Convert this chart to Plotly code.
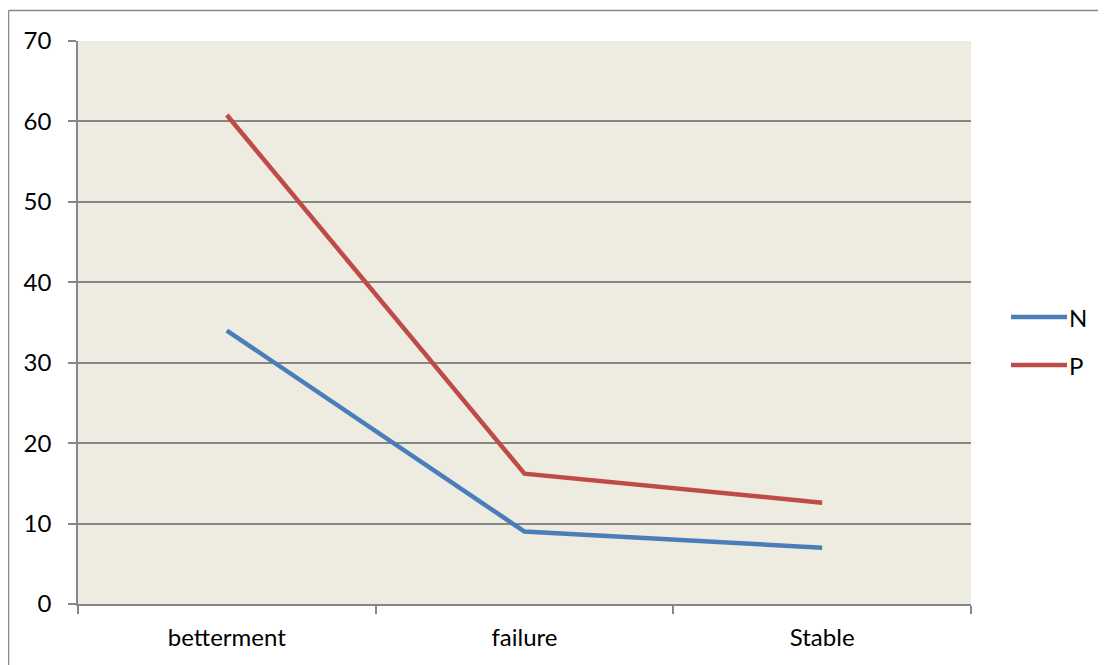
import plotly.graph_objects as go

categories = ["betterment", "failure", "Stable"]
series_names = ["N", "P"]
n_values = [34, 9, 7]
p_values = [60.8, 16.2, 12.6]
y_ticks = [0, 10, 20, 30, 40, 50, 60, 70]
colors = ["#4A7EBB", "#BE4B48"]

# page has an 8px body margin, so figure coords = page coords - 8
OFF = 8
W, H = 1106 - OFF, 665 - OFF
L, R, T, B = 78 - OFF, 971 - OFF, 41 - OFF, 604 - OFF
pw, ph = R - L, B - T

def px_x(p):
    return (p - OFF - L) / pw

def px_y(p):
    return (B - (p - OFF)) / ph

FONT = "Lato"
GRAY = "#868686"
FS = 24

fig = go.Figure()
for name, vals, col in zip(series_names, [n_values, p_values], colors):
    fig.add_trace(go.Scatter(x=categories, y=vals, mode="lines", name=name,
                             line=dict(color=col, width=4.5), showlegend=False))

fig.update_layout(
    width=W, height=H,
    margin=dict(l=L, r=W - R, t=T, b=H - B),
    paper_bgcolor="white",
    plot_bgcolor="#EEEBE0",
    font=dict(family=FONT, size=FS, color="black"),
)
fig.update_xaxes(type="category", range=[-0.5, 2.5], tickson="boundaries",
                 ticks="outside", ticklen=8, tickcolor=GRAY, tickwidth=1.5,
                 showline=True, linecolor=GRAY, linewidth=1.5, showgrid=False,
                 tickfont=dict(size=FS), ticklabelstandoff=11)
fig.update_yaxes(range=[0, 70], tickvals=y_ticks, ticks="outside", ticklen=8,
                 tickcolor=GRAY, tickwidth=1.5, showline=True, linecolor=GRAY,
                 linewidth=1.5, showgrid=True, gridcolor=GRAY, gridwidth=1.5,
                 zeroline=False, tickfont=dict(size=FS), ticklabelstandoff=12)

# outer frame (top and left edges visible)
fig.add_shape(type="line", xref="paper", yref="paper",
              x0=px_x(8.5), x1=px_x(1110), y0=px_y(10.5), y1=px_y(10.5),
              line=dict(color="#898989", width=1.5), layer="below")
fig.add_shape(type="line", xref="paper", yref="paper",
              x0=px_x(8.5), x1=px_x(8.5), y0=px_y(10.5), y1=px_y(670),
              line=dict(color="#898989", width=1.5), layer="below")

# legend
for i, (name, col) in enumerate(zip(series_names, colors)):
    yy = [317, 365][i]
    fig.add_shape(type="line", xref="paper", yref="paper",
                  x0=px_x(1011), x1=px_x(1067), y0=px_y(yy), y1=px_y(yy),
                  line=dict(color=col, width=4.5))
    fig.add_annotation(xref="paper", yref="paper", x=px_x(1067), y=px_y(yy),
                       text=name, showarrow=False, xanchor="left", yanchor="middle",
                       font=dict(size=FS, family=FONT, color="black"))

fig.write_html("out.html")
